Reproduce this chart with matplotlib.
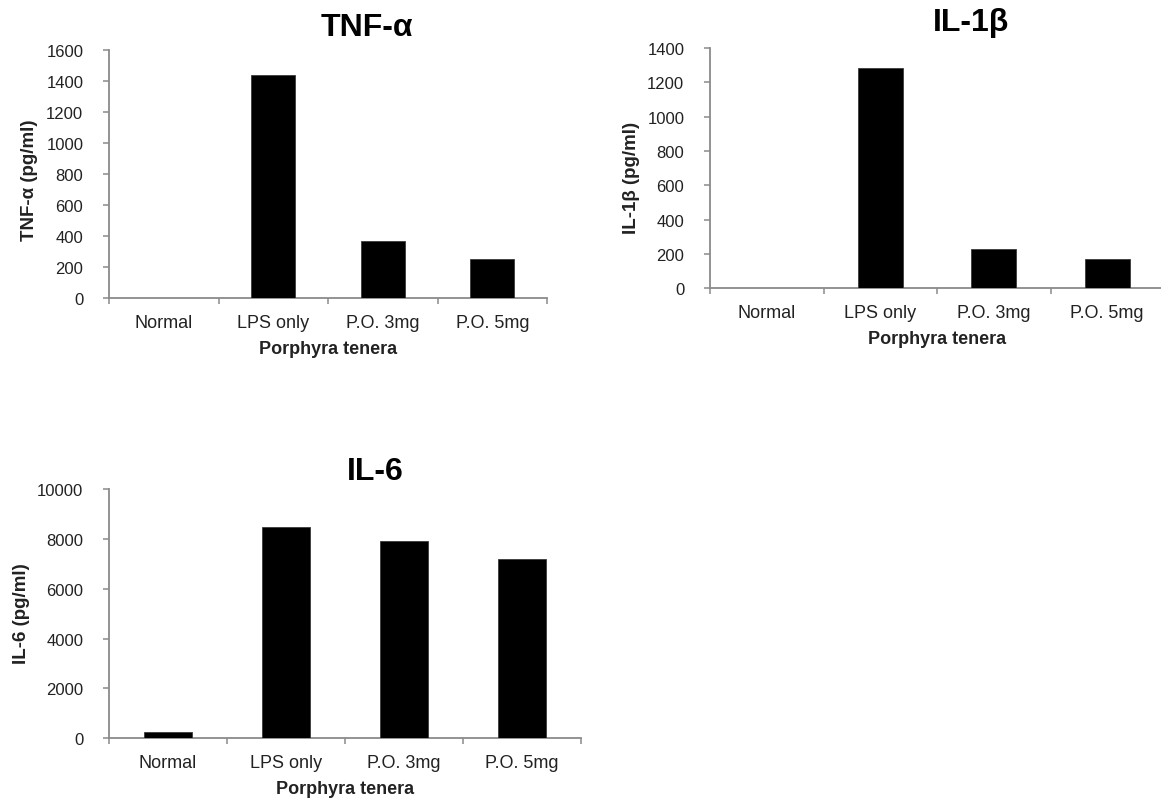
import matplotlib
matplotlib.use("Agg")
import matplotlib.pyplot as plt

plt.rcParams['font.family'] = ['Liberation Sans', 'DejaVu Sans']

groups = ["Normal", "LPS only", "P.O. 3mg", "P.O. 5mg"]
group_title = "Porphyra tenera"

tnf_values = [0, 1440, 370, 255]
il1b_values = [0, 1285, 230, 172]
il6_values = [250, 8480, 7900, 7180]

tnf_ticks = [0, 200, 400, 600, 800, 1000, 1200, 1400, 1600]
il1b_ticks = [0, 200, 400, 600, 800, 1000, 1200, 1400]
il6_ticks = [0, 2000, 4000, 6000, 8000, 10000]

W, H = 1161, 803
fig = plt.figure(figsize=(W / 100, H / 100), dpi=100)
fig.patch.set_facecolor("white")

AXIS_GRAY = "#8a8a8a"
TEXT_DARK = "#222222"


def px_axes(left, top, right, bottom):
    return fig.add_axes([left / W, 1 - bottom / H, (right - left) / W, (bottom - top) / H])


def fig_text(x, y, s, **kw):
    fig.text(x / W, 1 - y / H, s, ha="center", va="center", **kw)


def panel(box, values, yticks, title, title_xy, ylabel, ylabel_xy):
    left, top, right, bottom = box
    ax = px_axes(left, top, right, bottom)
    xs = list(range(len(groups)))
    ax.bar(xs, values, width=0.4, color="black", edgecolor="#3a3a3a", linewidth=0.6, zorder=3)
    ax.set_xlim(-0.5, len(groups) - 0.5)
    ax.set_ylim(yticks[0], yticks[-1])
    ax.set_yticks(yticks)
    ax.set_yticklabels([str(t) for t in yticks])

    # category separators as major ticks, names on minor ticks
    ax.set_xticks([i - 0.5 for i in range(len(groups) + 1)])
    ax.set_xticklabels([])
    ax.set_xticks(xs, minor=True)
    ax.set_xticklabels(groups, minor=True)

    for side in ("top", "right"):
        ax.spines[side].set_visible(False)
    for side in ("left", "bottom"):
        ax.spines[side].set_color(AXIS_GRAY)
        ax.spines[side].set_linewidth(1.3)

    ax.tick_params(axis="y", which="major", length=4.5, width=1.1, color=AXIS_GRAY,
                   labelsize=12, labelcolor=TEXT_DARK, pad=14)
    ax.tick_params(axis="x", which="major", length=4.5, width=1.1, color=AXIS_GRAY)
    ax.tick_params(axis="x", which="minor", length=0, labelsize=13,
                   labelcolor=TEXT_DARK, pad=11)

    cx = (left + right) / 2
    fig_text(cx, bottom + 50, group_title, fontsize=13, fontweight="bold", color=TEXT_DARK)
    fig_text(title_xy[0], title_xy[1], title, fontsize=23, fontweight="bold", color="black")
    fig_text(ylabel_xy[0], ylabel_xy[1], ylabel, fontsize=13.5, fontweight="bold",
             color=TEXT_DARK, rotation=90)
    return ax


panel((109, 50.7, 547, 299.3), tnf_values, tnf_ticks, "TNF-α", (367, 28),
      "TNF-α (pg/ml)", (29, 180))
panel((710, 49, 1164, 289.3), il1b_values, il1b_ticks, "IL-1β", (971, 23),
      "IL-1β (pg/ml)", (632, 178))
panel((109, 490, 581, 739.3), il6_values, il6_ticks, "IL-6", (375, 472),
      "IL-6 (pg/ml)", (22, 614))

fig.savefig("out.png", dpi=100, facecolor="white")
